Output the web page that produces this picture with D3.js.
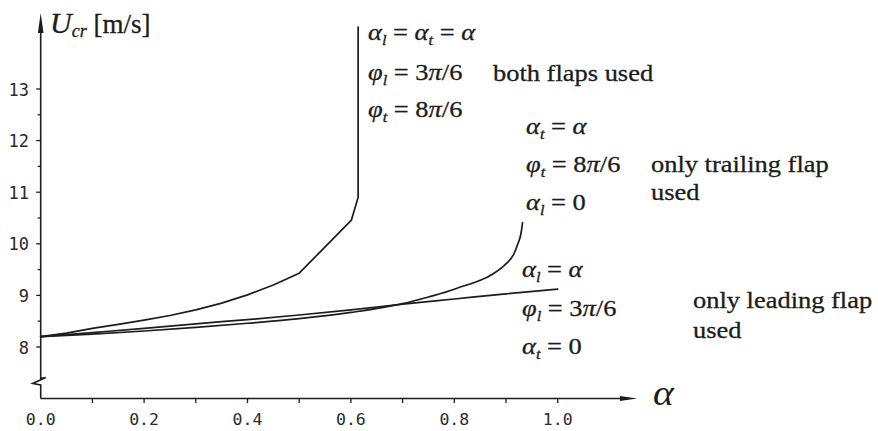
<!DOCTYPE html>
<html>
<head>
<meta charset="utf-8">
<script src="https://cdn.jsdelivr.net/npm/d3@7"></script>
<style>
  html, body { margin: 0; padding: 0; background: #fff; }
  svg { display: block; }
</style>
</head>
<body>
<svg id="chart" width="878" height="431"></svg>
<script>
// Critical flutter speed U_cr versus flap-control gain alpha
const xTickValues = [0.0, 0.2, 0.4, 0.6, 0.8, 1.0];
const xTickLabels = ["0.0", "0.2", "0.4", "0.6", "0.8", "1.0"];
const xMinorTicks = [0.1, 0.3, 0.5, 0.7, 0.9];
const yTickValues = [8, 9, 10, 11, 12, 13];
const yTickLabels = ["8", "9", "10", "11", "12", "13"];
const yMinorTicks = [8.5, 9.5, 10.5, 11.5, 12.5];

// both flaps used
const bothAlpha = [0, 0.05, 0.1, 0.15, 0.2, 0.25, 0.3, 0.35, 0.4, 0.45, 0.5, 0.601, 0.614, 0.614];
const bothU     = [8.2, 8.27, 8.36, 8.44, 8.52, 8.61, 8.72, 8.85, 9.01, 9.2, 9.43, 10.46, 10.9, 14.2];
// only trailing flap used
const trailAlpha = [0, 0.1, 0.2, 0.3, 0.4, 0.5, 0.6, 0.7, 0.75, 0.8, 0.904, 0.915, 0.923, 0.929, 0.932];
const trailU     = [8.2, 8.25, 8.31, 8.38, 8.46, 8.55, 8.67, 8.84, 8.97, 9.12, 9.65, 9.8, 10.0, 10.2, 10.41];
// only leading flap used
const leadAlpha = [0, 0.1, 0.2, 0.3, 0.4, 0.5, 0.6, 0.7, 0.8, 0.9, 1.0];
const leadU     = [8.2, 8.28, 8.36, 8.45, 8.53, 8.62, 8.72, 8.83, 8.93, 9.03, 9.12];

// annotation texts: segments [text, kind]  kind: "i" italic, "s" italic subscript, "r" roman
const bothLines = [
  [["α","i"],["l","s"],[" = ","r"],["α","i"],["t","s"],[" = ","r"],["α","i"]],
  [["φ","i"],["l","s"],[" = 3","r"],["π","i"],["/6","r"]],
  [["φ","i"],["t","s"],[" = 8","r"],["π","i"],["/6","r"]]
];
const trailLines = [
  [["α","i"],["t","s"],[" = ","r"],["α","i"]],
  [["φ","i"],["t","s"],[" = 8","r"],["π","i"],["/6","r"]],
  [["α","i"],["l","s"],[" = 0","r"]]
];
const leadLines = [
  [["α","i"],["l","s"],[" = ","r"],["α","i"]],
  [["φ","i"],["l","s"],[" = 3","r"],["π","i"],["/6","r"]],
  [["α","i"],["t","s"],[" = 0","r"]]
];
const bothNote = ["both flaps used"];
const trailNote = ["only trailing flap", "used"];
const leadNote = ["only leading flap", "used"];

const svg = d3.select("#chart");
const ink = "#1c1c1c";
const serif = "'Liberation Serif', 'Times New Roman', serif";
const mono = "'DejaVu Sans Mono', monospace";
const stretch = 1.16;

const x = d3.scaleLinear().domain([0, 1]).range([40.7, 557.7]);
const y = d3.scaleLinear().domain([8, 13]).range([347, 89]);
const axisY = 398.5;
const axisX = x(0);

// x axis line with arrow
svg.append("line").attr("x1", axisX).attr("x2", 622).attr("y1", axisY).attr("y2", axisY)
  .attr("stroke", ink).attr("stroke-width", 1.6);
svg.append("path").attr("d", `M620,${axisY - 2.6} L637,${axisY} L620,${axisY + 2.6} Z`).attr("fill", ink);

// y axis with break marker and arrow
svg.append("path")
  .attr("d", `M${axisX},${axisY} V385 L${axisX - 8},383.5 L${axisX + 5},377.5 L${axisX},378.5 V30`)
  .attr("fill", "none").attr("stroke", ink).attr("stroke-width", 1.6).attr("stroke-linejoin", "miter");
svg.append("path").attr("d", `M${axisX - 2.8},33 L${axisX},13 L${axisX + 2.8},33 Z`).attr("fill", ink);

// ticks
const xt = svg.append("g").attr("stroke", ink).attr("stroke-width", 1.3);
xTickValues.concat(xMinorTicks).forEach(v => {
  if (v === 0) return;
  xt.append("line").attr("x1", x(v)).attr("x2", x(v)).attr("y1", axisY).attr("y2", axisY + 4.5);
});
const yt = svg.append("g").attr("stroke", ink).attr("stroke-width", 1.3);
yTickValues.forEach(v => {
  yt.append("line").attr("x1", axisX - 4.5).attr("x2", axisX).attr("y1", y(v)).attr("y2", y(v));
});
yMinorTicks.forEach(v => {
  yt.append("line").attr("x1", axisX - 3).attr("x2", axisX).attr("y1", y(v)).attr("y2", y(v));
});

// tick labels
svg.append("g").selectAll("text").data(xTickValues).join("text")
  .attr("x", d => x(d)).attr("y", 425)
  .attr("text-anchor", "middle")
  .attr("font-family", mono).attr("font-size", 16.5).attr("fill", "#2a2a2a")
  .text((d, i) => xTickLabels[i]);
svg.append("g").selectAll("text").data(yTickValues).join("text")
  .attr("x", 29).attr("y", d => y(d) + 6.5)
  .attr("text-anchor", "end")
  .attr("font-family", mono).attr("font-size", 17).attr("fill", "#2a2a2a")
  .text((d, i) => yTickLabels[i]);

// curves
const straightPath = d3.line().x(d => x(d[0])).y(d => y(d[1]));
const smoothPath = d3.line().x(d => x(d[0])).y(d => y(d[1])).curve(d3.curveMonotoneX);
const curves = svg.append("g").attr("fill", "none").attr("stroke", ink).attr("stroke-width", 1.7)
  .attr("stroke-linejoin", "round").attr("stroke-linecap", "round");
curves.append("path").attr("d", straightPath(d3.zip(bothAlpha, bothU)));
curves.append("path").attr("d", smoothPath(d3.zip(trailAlpha, trailU)));
curves.append("path").attr("d", smoothPath(d3.zip(leadAlpha, leadU)));

// math text helper
function mathText(px, py, segs, size) {
  const t = svg.append("text")
    .attr("transform", `translate(${px},${py}) scale(${stretch},1)`)
    .attr("xml:space", "preserve")
    .attr("font-family", serif).attr("font-size", size).attr("fill", ink)
    .attr("stroke", ink).attr("stroke-width", 0.3);
  let shift = 0;
  segs.forEach(([str, kind]) => {
    const sp = t.append("tspan").text(str);
    if (kind === "s") {
      sp.attr("font-style", "italic").attr("font-size", size * 0.62).attr("dy", 5 - shift);
      shift = 5;
    } else {
      sp.attr("dy", -shift);
      shift = 0;
      if (kind === "i") sp.attr("font-style", "italic");
    }
  });
  return t;
}
function plainText(px, py, str, size) {
  return svg.append("text")
    .attr("transform", `translate(${px},${py}) scale(${stretch},1)`)
    .attr("font-family", serif).attr("font-size", size).attr("fill", ink)
    .attr("stroke", ink).attr("stroke-width", 0.3)
    .text(str);
}

const fs = 22.8;
bothLines.forEach((segs, i) => mathText(368, [40, 80, 117][i], segs, fs));
plainText(493, 81, bothNote[0], fs);
trailLines.forEach((segs, i) => mathText(526, [134, 172, 210][i], segs, fs));
trailNote.forEach((s, i) => plainText(651, [172, 200][i], s, fs));
leadLines.forEach((segs, i) => mathText(522, [277, 316, 354][i], segs, fs));
leadNote.forEach((s, i) => plainText(693, [308, 338][i], s, fs));

// axis titles
const yTitle = svg.append("text")
  .attr("x", 50).attr("y", 33)
  .attr("xml:space", "preserve")
  .attr("font-family", serif).attr("font-size", 27).attr("fill", ink)
  .attr("stroke", ink).attr("stroke-width", 0.3);
yTitle.append("tspan").attr("font-style", "italic").attr("font-size", 30).text("U");
yTitle.append("tspan").attr("font-style", "italic").attr("font-size", 18).attr("dy", 4).text("cr");
yTitle.append("tspan").attr("dy", -4).text(" [m/s]");

svg.append("text")
  .attr("transform", `translate(653,405) scale(1.1,1)`)
  .attr("font-family", serif).attr("font-style", "italic").attr("font-size", 36).attr("fill", ink)
  .text("α");
</script>
</body>
</html>
